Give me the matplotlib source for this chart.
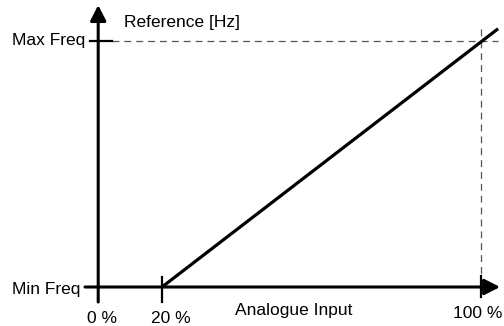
import matplotlib.pyplot as plt

# data (schematic: min/max freq on 0..1 scale, input in %)
x_ticks = [0, 20, 100]
x_tick_labels = ["0 %", "20 %", "100 %"]
y_ticks = [0, 1]
y_tick_labels = ["Min Freq", "Max Freq"]
line_x = [20, 104.3]
line_y = [0, 1.05]
x_label = "Analogue Input"
y_label = "Reference [Hz]"

plt.rcParams['font.family'] = ['Liberation Sans', 'DejaVu Sans']
FS = 12.5

fig = plt.figure(figsize=(5.04, 3.26), dpi=100)
ax = fig.add_axes([0, 0, 1, 1])
ax.set_xlim(-20.63, 105.77)
ax.set_ylim(-0.1585, 1.1667)
ax.axis('off')

# where the vertical axis sits (schematic, labelled 0 %)
x0 = 4.0

arrow = dict(arrowstyle='-|>,head_length=0.47,head_width=0.24', lw=2.2,
             color='black', mutation_scale=20, shrinkA=0, shrinkB=0)
ax.annotate('', xy=(x0, 1.146), xytext=(x0, -0.061), arrowprops=arrow)
ax.annotate('', xy=(104.77, 0), xytext=(0.69, 0), arrowprops=arrow)

# dashed guides
ax.plot([7.46, 104.3], [1, 1], color='#555555', lw=0.9, dashes=(5.5, 4))
ax.plot([100, 100], [1.049, 0], color='#555555', lw=0.9, dashes=(5.5, 4))

# characteristic line
ax.plot(line_x, line_y, color='black', lw=2.3, solid_capstyle='butt')

# tick marks
ax.plot([1.94, 7.46], [y_ticks[1], y_ticks[1]], color='black', lw=1.6)
ax.plot([x_ticks[1], x_ticks[1]], [0.0407, -0.061], color='black', lw=1.6)
ax.plot([x_ticks[2], x_ticks[2]], [0.045, -0.04], color='black', lw=1.6)

# tick labels
ax.text(x0 + 1.0, -0.146, x_tick_labels[0], ha='center', va='baseline', fontsize=FS)
ax.text(x_ticks[1] + 2.3, -0.146, x_tick_labels[1], ha='center', va='baseline', fontsize=FS)
ax.text(x_ticks[2] - 0.8, -0.126, x_tick_labels[2], ha='center', va='baseline', fontsize=FS)
ax.text(-0.56, y_ticks[0] - 0.028, y_tick_labels[0], ha='right', va='baseline', fontsize=FS)
ax.text(0.69, y_ticks[1] - 0.016, y_tick_labels[1], ha='right', va='baseline', fontsize=FS)

# axis labels
ax.text(53, -0.114, x_label, ha='center', va='baseline', fontsize=FS)
ax.text(10.47, 1.056, y_label, ha='left', va='baseline', fontsize=FS)

plt.savefig("out.png", dpi=100)
plt.close()
